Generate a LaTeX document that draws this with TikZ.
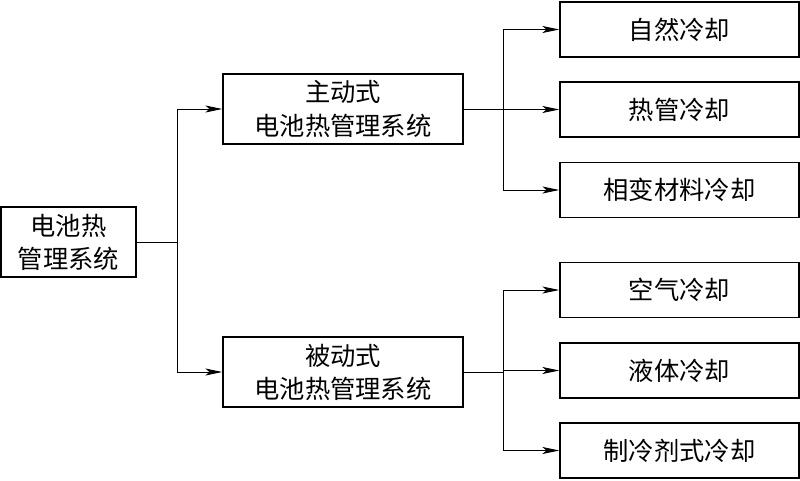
\documentclass[tikz,border=0pt]{standalone}
\usepackage{fontspec}
\setmainfont{Noto Sans CJK SC}
\usetikzlibrary{arrows.meta}

\begin{document}
\begin{tikzpicture}[x=0.025cm, y=-0.025cm, font=\fontsize{18}{23.5}\selectfont,
  box/.style={draw, line width=1.1pt, align=center, inner sep=0pt},
  link/.style={line width=0.7pt},
  arr/.style={link, -{Stealth[length=12pt, width=5pt, inset=3pt]}}]

\useasboundingbox (0,0) rectangle (800,480);

% root
\node[box, minimum width=3.375cm, minimum height=1.75cm] (bms) at (68.5,242) {电池热\\管理系统};

% active / passive
\node[box, minimum width=6cm, minimum height=1.75cm] (active) at (343,109) {主动式\\电池热管理系统};
\node[box, minimum width=6cm, minimum height=1.75cm] (passive) at (343,372) {被动式\\电池热管理系统};

% cooling methods
\foreach \name/\y/\txt in {nat/29.5/自然冷却, pipe/109.5/热管冷却, pcm/190/相变材料冷却,
  air/290/空气冷却, liq/370.5/液体冷却, ref/450.5/制冷剂式冷却}
  \node[box, minimum width=5.975cm, minimum height=1.375cm] (\name) at (679.5,\y) {\txt};

% connectors
\coordinate (j0) at (177,242);
\draw[link] (bms.east) -- (j0);
\draw[arr] (j0) |- (active.west);
\draw[arr] (j0) |- (passive.west);

\coordinate (j1) at (503,109);
\draw[link] (active.east) -- (j1);
\foreach \name in {nat, pipe, pcm}
  \draw[arr] (j1) |- (\name.west);

\coordinate (j2) at (503,372);
\draw[link] (passive.east) -- (j2);
\foreach \name in {air, liq, ref}
  \draw[arr] (j2) |- (\name.west);

\end{tikzpicture}
\end{document}
